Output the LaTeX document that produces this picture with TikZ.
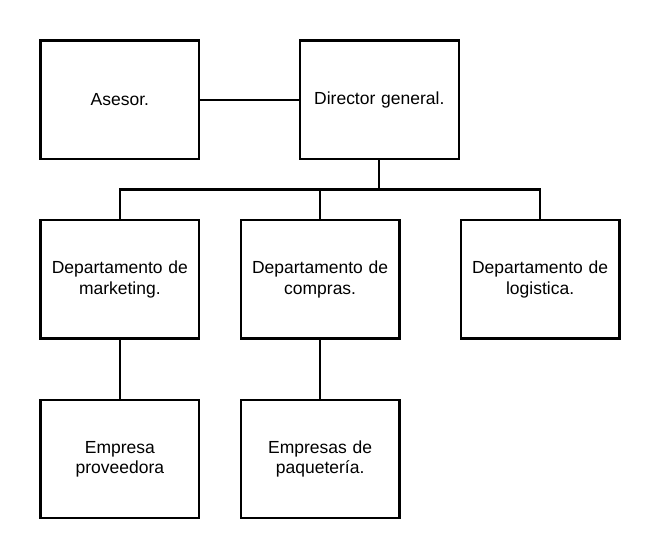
\documentclass[tikz,border=0pt]{standalone}
\usepackage{fontspec}
\setmainfont{Liberation Sans}
\usepackage{tikz}
\usetikzlibrary{positioning}
\tikzstyle{puesto} = [rectangle, draw, line width=1.6pt, minimum width=120pt,
    minimum height=90pt, text width=114pt, align=center,
    font=\fontsize{13.3}{15.5}\selectfont]
\tikzstyle{line} = [draw, line width=1.6pt]

\begin{document}
\begin{tikzpicture}[node distance = 45pt]
        % Nodes
    \node [puesto] (asesor) {Asesor.};
    \node [puesto, right = 75pt of asesor] (director) {Director general.};
    \node [puesto, below = of asesor] (marketing) {Departamento de\\marketing.};
    \node [puesto, right = 30pt of marketing] (compras) {Departamento de\\compras.};
    \node [puesto, right = of compras] (logistica) {Departamento de\\logistica.};
    \node [puesto, below = of marketing] (proveedora) {Empresa\\proveedora};
    \node [puesto, below = of compras] (paqueteria) {Empresas de\\paquetería.};
    \coordinate [below = 22.5pt of director.south] (reparto);
        % Edges
    \path [line] (asesor) -- (director);
    \path [line] (director.south) -- (reparto);
    \path [line] (reparto) -| (marketing.north);
    \path [line] (reparto) -| (compras.north);
    \path [line] (reparto) -| (logistica.north);
    \path [line] (marketing) -- (proveedora);
    \path [line] (compras) -- (paqueteria);
        % Margins
    \path (asesor.north west) ++(-30pt,30pt) coordinate (arriba);
    \path (logistica.east |- proveedora.south) ++(30pt,-30pt) coordinate (abajo);
    \path (arriba) rectangle (abajo);
\end{tikzpicture}
\end{document}
